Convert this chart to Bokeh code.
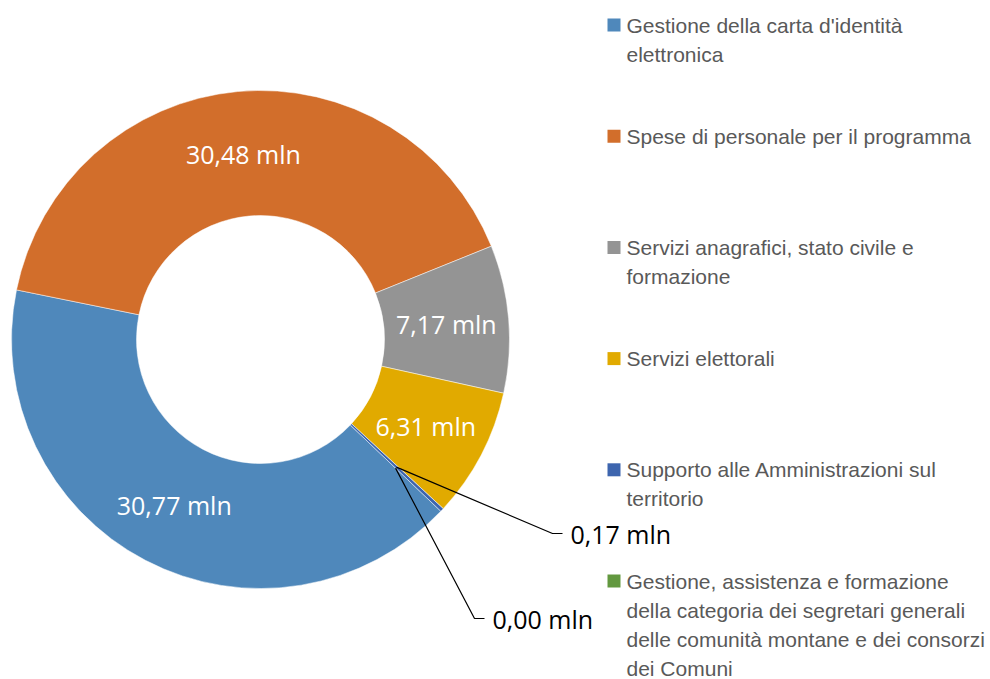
import math
from bokeh.plotting import figure
from bokeh.models import ColumnDataSource, Range1d
from bokeh.core.properties import value
from bokeh.embed import file_html
from bokeh.resources import INLINE

# ---------------- data ----------------
categories = [
    "Gestione della carta d'identità elettronica",
    "Spese di personale per il programma",
    "Servizi anagrafici, stato civile e formazione",
    "Servizi elettorali",
    "Supporto alle Amministrazioni sul territorio",
    "Gestione, assistenza e formazione della categoria dei segretari generali delle comunità montane e dei consorzi dei Comuni",
]
legend_labels = [
    "Gestione della carta d'identità\nelettronica",
    "Spese di personale per il programma",
    "Servizi anagrafici, stato civile e\nformazione",
    "Servizi elettorali",
    "Supporto alle Amministrazioni sul\nterritorio",
    "Gestione, assistenza e formazione\ndella categoria dei segretari generali\ndelle comunità montane e dei consorzi\ndei Comuni",
]
values_mln = [30.77, 30.48, 7.17, 6.31, 0.17, 0.00]
value_labels = ["30,77 mln", "30,48 mln", "7,17 mln", "6,31 mln", "0,17 mln", "0,00 mln"]
colors = ["#4F88BB", "#D26E2B", "#949494", "#E1AA00", "#3D65AE", "#62983F"]

# ---------------- layout ----------------
W, H = 990, 679


def Y(py):  # page y -> data y (y up)
    return H - py


CX, CY = 260, Y(339)
R_OUT, R_IN = 249, 124
R_LAB = (R_OUT + R_IN) / 2
START = math.radians(-43.6)

p = figure(width=W, height=H, output_backend="svg", toolbar_location=None,
           x_range=Range1d(0, W), y_range=Range1d(0, H),
           min_border=0, outline_line_color=None)
p.axis.visible = False
p.grid.visible = False
p.background_fill_color = "white"
p.border_fill_color = "white"

total = sum(values_mln)
starts, ends, mids = [], [], []
a = START
for v in values_mln:
    b = a - v / total * 2 * math.pi
    starts.append(b)
    ends.append(a)
    mids.append((a + b) / 2)
    a = b

keep = [i for i, v in enumerate(values_mln) if v > 0]
src = ColumnDataSource(dict(start=[starts[i] for i in keep], end=[ends[i] for i in keep],
                            color=[colors[i] for i in keep], cat=[categories[i] for i in keep]))
p.annular_wedge(x=CX, y=CY, inner_radius=R_IN, outer_radius=R_OUT,
                start_angle="start", end_angle="end", direction="anticlock",
                fill_color="color", line_color="white", line_width=0.5, source=src)

# inner labels
n_in = 4
lx = [CX + R_LAB * math.cos(m) for m in mids[:n_in]]
ly = [CY + R_LAB * math.sin(m) for m in mids[:n_in]]
p.text(x=lx, y=ly, text=value_labels[:n_in], text_color="white",
       text_font=value("Open Sans"), text_font_size="25px",
       text_align="center", text_baseline="middle")

# outside labels for the tiny slices with leader lines
out_pos = [(570, 533), (492, 618)]
for i, (tx, ty) in zip([4, 5], out_pos):
    ax = CX + R_LAB * math.cos(mids[i])
    ay = CY + R_LAB * math.sin(mids[i])
    p.line(x=[ax, tx - 18, tx - 8], y=[ay, Y(ty), Y(ty)], line_color="black", line_width=1.2)
    p.text(x=[tx], y=[Y(ty)], text=[value_labels[i]], text_color="black",
           text_font=value("Open Sans"), text_font_size="25px",
           text_align="left", text_baseline="middle")

# legend (manual)
LEG_X_SQ = 613.5
LEG_X_TXT = 626
LEG_Y0 = 24.5
LEG_STEP = 111.2
LINE_STEP = 29
sq_y, tx_x, tx_y, tx_t = [], [], [], []
for i, lab in enumerate(legend_labels):
    y0 = LEG_Y0 + i * LEG_STEP
    sq_y.append(Y(y0))
    for j, line in enumerate(lab.split("\n")):
        tx_x.append(LEG_X_TXT)
        tx_y.append(Y(y0 + j * LINE_STEP))
        tx_t.append(line)
p.rect(x=[LEG_X_SQ] * len(sq_y), y=sq_y, width=13, height=13,
       fill_color=colors, line_color=None)
p.text(x=tx_x, y=tx_y, text=tx_t, text_color="#595959",
       text_font=value("Liberation Sans"), text_font_size="21px",
       text_align="left", text_baseline="middle")

open("out.html", "w").write(file_html(p, INLINE))
